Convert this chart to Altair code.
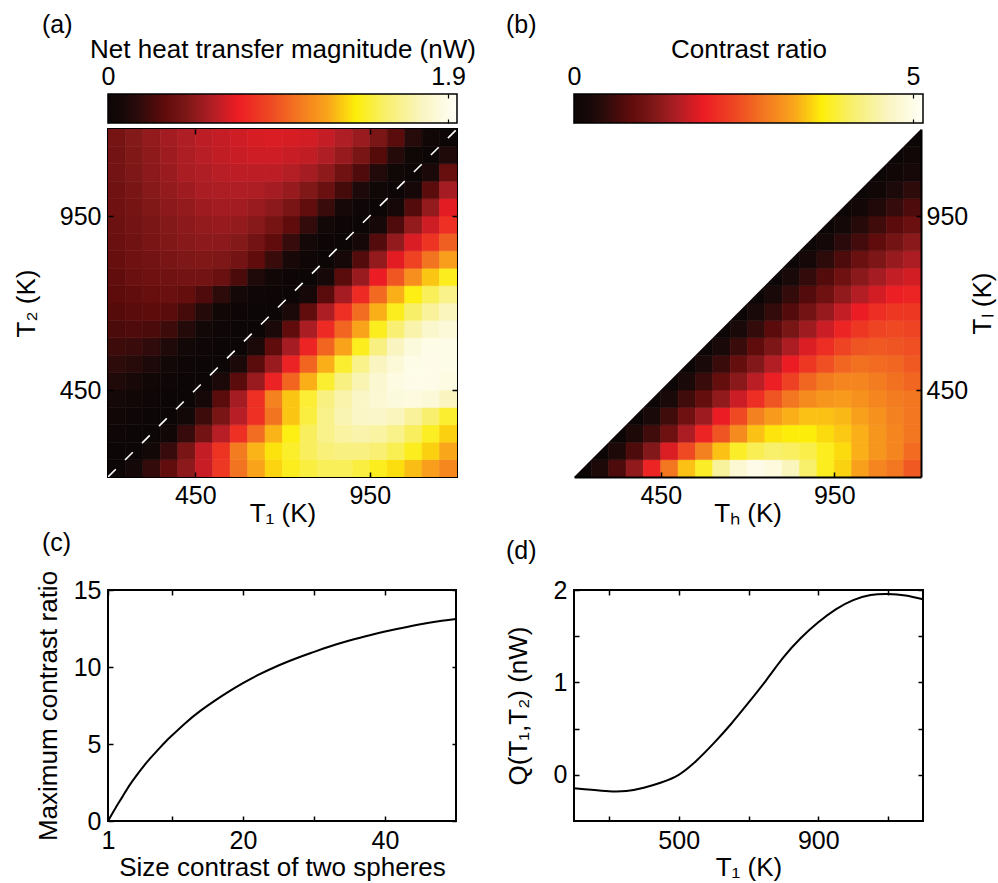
import altair as alt
import pandas as pd

FONT = "Liberation Sans"
FS = 25      # tick labels
FT = 26      # titles

# ---------------- data ----------------
# cell centres (K) of the sampled temperature grid
cell_centers = [225, 275, 325, 375, 425, 475, 525, 575, 625, 675,
                725, 775, 825, 875, 925, 975, 1025, 1075, 1125, 1175]
cell_half = 25

# (a) |Q| in nW; one row per T2 (225 ... 1175), columns T1 (225 ... 1175)
heat_a = [
    [0.00, 0.07, 0.19, 0.33, 0.48, 0.64, 0.84, 1.05, 1.22, 1.33, 1.42, 1.48, 1.52, 1.52, 1.48, 1.42, 1.35, 1.28, 1.20, 1.12],
    [0.00, 0.00, 0.06, 0.20, 0.42, 0.63, 0.82, 1.08, 1.26, 1.36, 1.44, 1.53, 1.58, 1.60, 1.60, 1.57, 1.51, 1.42, 1.32, 1.23],
    [0.02, 0.00, 0.00, 0.05, 0.20, 0.40, 0.60, 0.80, 1.03, 1.26, 1.40, 1.53, 1.62, 1.68, 1.70, 1.68, 1.62, 1.53, 1.43, 1.32],
    [0.04, 0.02, 0.00, 0.00, 0.06, 0.22, 0.42, 0.60, 0.80, 1.05, 1.30, 1.48, 1.62, 1.72, 1.77, 1.78, 1.74, 1.66, 1.56, 1.45],
    [0.07, 0.04, 0.02, 0.00, 0.00, 0.08, 0.30, 0.55, 0.80, 1.10, 1.30, 1.46, 1.60, 1.70, 1.77, 1.82, 1.85, 1.86, 1.84, 1.75],
    [0.12, 0.09, 0.05, 0.02, 0.00, 0.00, 0.10, 0.30, 0.52, 0.75, 1.00, 1.25, 1.45, 1.60, 1.72, 1.81, 1.87, 1.90, 1.90, 1.87],
    [0.17, 0.15, 0.11, 0.06, 0.02, 0.00, 0.00, 0.10, 0.30, 0.52, 0.75, 1.00, 1.25, 1.45, 1.62, 1.75, 1.84, 1.89, 1.90, 1.89],
    [0.22, 0.21, 0.18, 0.12, 0.06, 0.02, 0.00, 0.00, 0.10, 0.32, 0.55, 0.76, 1.00, 1.22, 1.42, 1.60, 1.75, 1.85, 1.89, 1.89],
    [0.26, 0.27, 0.26, 0.22, 0.14, 0.06, 0.02, 0.00, 0.00, 0.10, 0.32, 0.56, 0.78, 1.00, 1.22, 1.42, 1.57, 1.70, 1.79, 1.84],
    [0.29, 0.30, 0.31, 0.30, 0.24, 0.14, 0.05, 0.01, 0.00, 0.00, 0.10, 0.33, 0.57, 0.80, 1.03, 1.25, 1.42, 1.55, 1.66, 1.74],
    [0.31, 0.33, 0.35, 0.36, 0.34, 0.27, 0.17, 0.07, 0.02, 0.01, 0.00, 0.08, 0.30, 0.55, 0.78, 1.02, 1.25, 1.40, 1.52, 1.62],
    [0.33, 0.36, 0.38, 0.39, 0.40, 0.40, 0.36, 0.26, 0.12, 0.04, 0.01, 0.00, 0.08, 0.30, 0.52, 0.72, 0.95, 1.15, 1.30, 1.42],
    [0.35, 0.38, 0.40, 0.42, 0.44, 0.45, 0.44, 0.40, 0.32, 0.21, 0.09, 0.02, 0.00, 0.08, 0.28, 0.50, 0.70, 0.88, 1.05, 1.20],
    [0.36, 0.39, 0.42, 0.45, 0.47, 0.48, 0.48, 0.46, 0.40, 0.32, 0.20, 0.07, 0.01, 0.00, 0.08, 0.28, 0.50, 0.68, 0.82, 0.98],
    [0.37, 0.40, 0.43, 0.46, 0.48, 0.50, 0.51, 0.50, 0.47, 0.41, 0.32, 0.19, 0.06, 0.01, 0.00, 0.08, 0.27, 0.50, 0.65, 0.80],
    [0.38, 0.41, 0.45, 0.48, 0.50, 0.53, 0.54, 0.54, 0.52, 0.48, 0.42, 0.33, 0.21, 0.08, 0.02, 0.00, 0.08, 0.28, 0.50, 0.70],
    [0.39, 0.42, 0.47, 0.50, 0.53, 0.56, 0.57, 0.58, 0.57, 0.55, 0.51, 0.45, 0.36, 0.24, 0.11, 0.03, 0.00, 0.08, 0.30, 0.55],
    [0.40, 0.44, 0.48, 0.52, 0.56, 0.58, 0.60, 0.61, 0.61, 0.61, 0.59, 0.55, 0.49, 0.39, 0.27, 0.13, 0.03, 0.00, 0.10, 0.35],
    [0.40, 0.45, 0.49, 0.53, 0.57, 0.60, 0.62, 0.64, 0.65, 0.65, 0.64, 0.62, 0.58, 0.51, 0.42, 0.29, 0.14, 0.03, 0.00, 0.12],
    [0.41, 0.46, 0.50, 0.54, 0.58, 0.61, 0.63, 0.65, 0.67, 0.68, 0.67, 0.66, 0.63, 0.58, 0.52, 0.43, 0.30, 0.15, 0.04, 0.00],
]

# (b) contrast ratio; one row per T_l (225 ... 1175), values for T_h from T_l up to 1175
ratio_b = [
    [0.0, 0.3, 0.7, 1.3, 2.0, 2.8, 3.4, 3.8, 4.4, 4.8, 5.0, 4.9, 4.6, 4.1, 3.75, 3.5, 3.2, 2.95, 2.8, 2.55],
    [0.0, 0.3, 0.7, 1.2, 1.8, 2.4, 2.9, 3.4, 3.8, 4.0, 4.1, 4.05, 3.95, 3.75, 3.55, 3.3, 3.1, 2.95, 2.7],
    [0.0, 0.3, 0.6, 1.0, 1.5, 2.0, 2.5, 3.0, 3.4, 3.6, 3.65, 3.65, 3.55, 3.45, 3.3, 3.1, 2.95, 2.8],
    [0.0, 0.25, 0.6, 1.0, 1.4, 1.9, 2.4, 2.9, 3.15, 3.3, 3.4, 3.4, 3.35, 3.2, 3.05, 2.9, 2.8],
    [0.0, 0.25, 0.6, 0.9, 1.3, 1.7, 2.1, 2.5, 2.8, 3.0, 3.1, 3.15, 3.05, 2.95, 2.85, 2.8],
    [0.0, 0.25, 0.55, 0.9, 1.25, 1.6, 1.95, 2.3, 2.65, 2.85, 2.95, 2.95, 2.85, 2.75, 2.65],
    [0.0, 0.25, 0.55, 0.9, 1.2, 1.55, 1.9, 2.2, 2.45, 2.65, 2.75, 2.7, 2.65, 2.55],
    [0.0, 0.25, 0.55, 0.85, 1.15, 1.5, 1.8, 2.1, 2.35, 2.5, 2.55, 2.5, 2.45],
    [0.0, 0.25, 0.5, 0.8, 1.1, 1.4, 1.7, 2.0, 2.2, 2.35, 2.4, 2.35],
    [0.0, 0.25, 0.5, 0.75, 1.05, 1.35, 1.65, 1.9, 2.1, 2.2, 2.2],
    [0.0, 0.25, 0.5, 0.75, 1.0, 1.3, 1.55, 1.75, 1.95, 2.0],
    [0.0, 0.25, 0.5, 0.75, 1.0, 1.25, 1.45, 1.65, 1.75],
    [0.0, 0.22, 0.45, 0.7, 0.95, 1.15, 1.35, 1.5],
    [0.0, 0.2, 0.42, 0.62, 0.85, 1.05, 1.25],
    [0.0, 0.18, 0.38, 0.6, 0.8, 0.95],
    [0.0, 0.15, 0.33, 0.52, 0.7],
    [0.0, 0.13, 0.28, 0.45],
    [0.0, 0.1, 0.22],
    [0.0, 0.1],
    [0.0],
]

# (c)
size_contrast = [1, 2, 3, 4, 5, 6, 7, 8, 9, 10, 12, 14, 16, 18, 20, 22, 25, 28, 30, 32, 35, 38, 40, 42, 45, 48, 50]
max_contrast = [0.0, 0.8, 1.55, 2.3, 2.95, 3.55, 4.1, 4.6, 5.1, 5.55, 6.4, 7.15, 7.8, 8.4, 8.95, 9.45, 10.1, 10.65,
                10.98, 11.3, 11.72, 12.08, 12.3, 12.5, 12.78, 13.0, 13.12]

# (d)
t1_d = [200, 250, 300, 350, 400, 450, 500, 550, 600, 650, 700, 750, 800, 850, 900, 950, 1000, 1050, 1100, 1150, 1200]
q_d = [-0.145, -0.163, -0.178, -0.175, -0.14, -0.083, 0.0, 0.15, 0.34, 0.55, 0.78, 1.02, 1.27, 1.48, 1.65, 1.79,
       1.89, 1.945, 1.957, 1.94, 1.90]

diag_T = [200, 1200]
t_domain = [200, 1200]
heat_ticks = [450, 950]
cbar_a_max, cbar_a_ticks = 1.95, [0, 1.9]
cbar_b_max, cbar_b_ticks = 5.15, [0, 5]

# colour map ("hot"-like, as in the colour bars)
cmap_pos = [0.0, 0.04, 0.09, 0.16, 0.23, 0.30, 0.37, 0.46, 0.55, 0.63, 0.71, 0.80, 0.90, 1.0]
cmap_col = ["#0d0606", "#150808", "#2e0b0b", "#5e0b0b", "#801818", "#b21e25", "#ec1c24", "#ee4623",
            "#f37a20", "#f9a51b", "#fdee0a", "#f8ef6f", "#faf5c2", "#fffff7"]

PW, PH = 349, 348
CW, CH = 349, 231
BAR_H = 29

# ---------------- tables ----------------
rows = []
for i, t2 in enumerate(cell_centers):
    for j, t1 in enumerate(cell_centers):
        rows.append({"T1": t1, "T2": t2, "Q": heat_a[i][j]})
df_a = pd.DataFrame(rows)

rows = []
for i, tl in enumerate(cell_centers):
    for k, r in enumerate(ratio_b[i]):
        rows.append({"Th": cell_centers[i + k], "Tl": tl, "R": r})
df_b = pd.DataFrame(rows)

df_diag = pd.DataFrame({"v": diag_T})
df_c = pd.DataFrame({"s": size_contrast, "m": max_contrast})
df_d = pd.DataFrame({"t": t1_d, "q": q_d})


def cscale(vmax):
    return alt.Scale(domain=[p * vmax for p in cmap_pos], range=cmap_col, interpolate="rgb", clamp=True)


def tick_axis(**kw):
    base = dict(ticks=False, domain=False, grid=True, gridColor="black", gridOpacity=1, gridWidth=1.5,
                labelFlush=False, labelOverlap=False, zindex=1, labelFontSize=FS, titleFontSize=FT)
    base.update(kw)
    return alt.Axis(**base)


def panel_title(txt, dx, offset):
    return alt.TitleParams(txt, anchor="start", dx=dx, offset=offset, frame="group",
                           font=FONT, fontSize=FS, fontWeight="normal", color="black")


def colorbar(vmax, ticks, title, panel, dx):
    grad = alt.LinearGradient(
        gradient="linear",
        stops=[alt.GradientStop(color=c, offset=p) for p, c in zip(cmap_pos, cmap_col)],
        x1=0, x2=1, y1=0, y2=0)
    df = pd.DataFrame({"lo": [0.0], "hi": [vmax]})
    return alt.Chart(df, title=panel_title(panel, dx, -2)).mark_rect(
        fill=grad, stroke="black", strokeWidth=1.5
    ).encode(
        x=alt.X("lo:Q", scale=alt.Scale(domain=[0, vmax], nice=False, zero=False),
                axis=tick_axis(orient="top", values=ticks, title=title, labelExpr="toString(datum.value)",
                               labelPadding=5, titlePadding=2,
                               gridDash=[4, BAR_H - 8, 4, 300], gridWidth=1.2)),
        x2="hi:Q",
        y=alt.value(0),
        y2=alt.value(BAR_H),
    ).properties(width=PW, height=BAR_H)


cbarA = colorbar(cbar_a_max, cbar_a_ticks, "Net heat transfer magnitude (nW)", "(a)", -66)
cbarB = colorbar(cbar_b_max, cbar_b_ticks, "Contrast ratio", "(b)", -68)

# ---------------- (a) ----------------
tscale = alt.Scale(domain=t_domain, nice=False, zero=False)


def ax_a_x(field):
    return alt.X(field, scale=tscale, axis=tick_axis(values=heat_ticks, title="T₁ (K)", labelPadding=6,
                                                     titlePadding=-8, gridDash=[5, PH - 10, 5, 3000]))


def ax_a_y(field):
    return alt.Y(field, scale=tscale, axis=tick_axis(values=heat_ticks, title="T₂ (K)", labelPadding=7,
                                                     titlePadding=20, gridDash=[5, PW - 10, 5, 3000]))


calc = dict(x0=f"datum.T1 - {cell_half}", x1=f"datum.T1 + {cell_half}",
            y0=f"datum.T2 - {cell_half}", y1=f"datum.T2 + {cell_half}")

heatA_rect = alt.Chart(df_a).transform_calculate(**calc).mark_rect(clip=True, strokeWidth=0.6).encode(
    x=ax_a_x("x0:Q"), x2="x1:Q", y=ax_a_y("y0:Q"), y2="y1:Q",
    color=alt.Color("Q:Q", scale=cscale(cbar_a_max), legend=None),
    stroke=alt.Stroke("Q:Q", scale=cscale(cbar_a_max), legend=None),
)
heatA_diag = alt.Chart(df_diag).mark_line(color="white", strokeDash=[11, 13], strokeWidth=1.6, clip=True).encode(
    x=ax_a_x("v:Q"), y=ax_a_y("v:Q"))
heatA = alt.layer(heatA_rect, heatA_diag).properties(
    width=PW, height=PH, view=alt.ViewBackground(stroke="black", strokeWidth=2))

# ---------------- (b) ----------------


def ax_b_x(field):
    return alt.X(field, scale=tscale, axis=tick_axis(values=heat_ticks, title="Tₕ (K)", labelPadding=6,
                                                     titlePadding=-8, gridDash=[0, PH - 5, 5, 3000], domain=True,
                                                     domainColor="black", domainWidth=2))


def ax_b_y(field, **kw):
    return alt.Y(field, scale=tscale, axis=tick_axis(orient="right", values=heat_ticks, title="Tₗ (K)",
                                                     titleAngle=270, labelPadding=5, titlePadding=28,
                                                     gridDash=[5, 3000], domain=True,
                                                     domainColor="black", domainWidth=2), **kw)


calc_b = dict(x0=f"datum.Th - {cell_half}", x1=f"datum.Th + {cell_half}",
              y0=f"datum.Tl - {cell_half}", y1=f"datum.Tl + {cell_half}")
heatB_rect = alt.Chart(df_b).transform_calculate(**calc_b).mark_rect(clip=True, strokeWidth=0.6).encode(
    x=ax_b_x("x0:Q"), x2="x1:Q", y=ax_b_y("y0:Q"), y2="y1:Q",
    color=alt.Color("R:Q", scale=cscale(cbar_b_max), legend=None),
    stroke=alt.Stroke("R:Q", scale=cscale(cbar_b_max), legend=None),
)
heatB_mask = alt.Chart(df_diag).mark_area(color="white", interpolate="linear", clip=True).encode(
    x=ax_b_x("v:Q"), y=ax_b_y("v:Q", stack=False), y2=alt.value(0))
heatB = alt.layer(heatB_rect, heatB_mask).properties(width=PW - 2, height=PH)

# ---------------- (c) ----------------
lineC = alt.Chart(df_c, title=panel_title("(c)", -66, 14)).mark_line(
    color="black", strokeWidth=2, interpolate="natural"
).encode(
    x=alt.X("s:Q", scale=alt.Scale(domain=[1, 50], nice=False, zero=False),
            axis=tick_axis(values=[1, 10, 20, 30, 40],
                           labelExpr="(datum.value == 1 || datum.value == 20 || datum.value == 40) ? datum.label : ''",
                           title="Size contrast of two spheres", labelPadding=7, titlePadding=1,
                           gridDash=[5, CH - 10, 5, 3000], zindex=0)),
    y=alt.Y("m:Q", scale=alt.Scale(domain=[0, 15], nice=False, zero=False),
            axis=tick_axis(values=[0, 5, 10, 15], title="Maximum contrast ratio", labelPadding=7,
                           titlePadding=12, gridDash=[5, CW - 10, 5, 3000], zindex=0)),
).properties(width=CW - 1, height=CH, view=alt.ViewBackground(stroke="black", strokeWidth=2))

# ---------------- (d) ----------------
lineD = alt.Chart(df_d, title=panel_title("(d)", -68, 14)).mark_line(
    color="black", strokeWidth=2, interpolate="natural"
).encode(
    x=alt.X("t:Q", scale=alt.Scale(domain=t_domain, nice=False, zero=False),
            axis=tick_axis(values=[300, 500, 700, 900, 1100],
                           labelExpr="(datum.value == 500 || datum.value == 900) ? datum.label : ''",
                           title="T₁ (K)", labelPadding=7, titlePadding=1,
                           gridDash=[5, CH - 10, 5, 3000], zindex=0)),
    y=alt.Y("q:Q", scale=alt.Scale(domain=[-0.5, 2], nice=False, zero=False),
            axis=tick_axis(values=[0, 0.5, 1, 1.5, 2],
                           labelExpr="(datum.value % 1 == 0) ? toString(datum.value) : ''",
                           title="Q(T₁,T₂) (nW)", labelPadding=7, titlePadding=22,
                           gridDash=[5, CW - 10, 5, 3000], zindex=0)),
).properties(width=CW, height=CH, view=alt.ViewBackground(stroke="black", strokeWidth=2))

chart = alt.concat(
    cbarA, cbarB, heatA, heatB, lineC, lineD,
    columns=2, spacing={"row": 3, "column": 28}, align="each",
).resolve_scale(
    color="independent", stroke="independent"
).properties(
    padding={"left": 12, "top": 12, "right": 0, "bottom": 0}
).configure(font=FONT).configure_axis(
    labelFont=FONT, titleFont=FONT, titleFontWeight="normal",
    labelColor="black", titleColor="black"
).configure_title(font=FONT, fontSize=FS, fontWeight="normal", color="black").configure_view(
    stroke="transparent"
)

chart.save("out.html", embed_options={"renderer": "svg", "actions": False})
